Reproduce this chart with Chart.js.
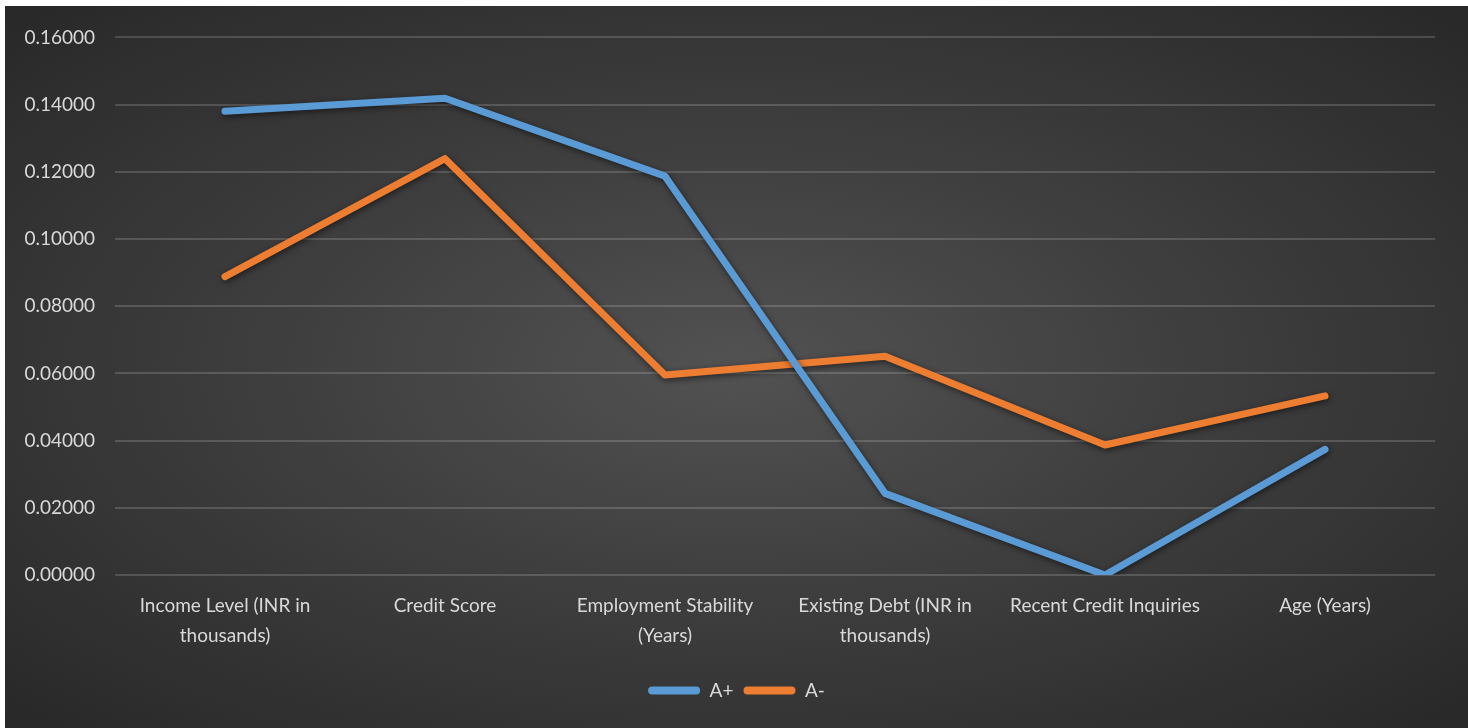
<!DOCTYPE html>
<html>
<head>
<meta charset="utf-8">
<script src="https://cdn.jsdelivr.net/npm/chart.js@4/dist/chart.umd.min.js"></script>
<style>
	html, body { margin: 0; padding: 0; background: #fff; }
	#wrap {
		position: absolute; left: 5px; top: 6px; width: 1463px; height: 722px;
		background: radial-gradient(ellipse at 50% 50%, #525252 0%, #3e3e3e 45%, #282828 100%);
	}
</style>
</head>
<body>
<div id="wrap"><canvas id="chart"></canvas></div>
<script>
// categories and series
var categories = [
	["Income Level (INR in", "thousands)"],
	"Credit Score",
	["Employment Stability", "(Years)"],
	["Existing Debt (INR in", "thousands)"],
	"Recent Credit Inquiries",
	"Age (Years)"
];
var aPlus  = [0.1380, 0.1419, 0.1187, 0.0243, 0.0000, 0.0374];
var aMinus = [0.0888, 0.1239, 0.0595, 0.0651, 0.0387, 0.0533];
var yTicks = { min: 0, max: 0.16, step: 0.02 };

var txt = "#d9d9d9";
var fontFam = "Lato, 'Open Sans', sans-serif";

// soft drop shadow under the lines, like the Excel style
var shadow = {
	id: "shadow",
	beforeDatasetsDraw: function(chart) {
		var c = chart.ctx;
		c.save();
		c.shadowColor = "rgba(0,0,0,0.55)";
		c.shadowBlur = 6;
		c.shadowOffsetX = 1;
		c.shadowOffsetY = 2;
	},
	afterDatasetsDraw: function(chart) {
		chart.ctx.restore();
	}
};

new Chart(document.getElementById("chart"), {
	type: "line",
	data: {
		labels: categories,
		datasets: [{
			label: "A+",
			data: aPlus,
			borderColor: "#5B9BD5",
			backgroundColor: "#5B9BD5",
			borderWidth: 7,
			borderCapStyle: "round",
			borderJoinStyle: "round",
			pointRadius: 0,
			tension: 0
		}, {
			label: "A-",
			data: aMinus,
			borderColor: "#ED7D31",
			backgroundColor: "#ED7D31",
			borderWidth: 7,
			borderCapStyle: "round",
			borderJoinStyle: "round",
			pointRadius: 0,
			tension: 0
		}]
	},
	options: {
		responsive: true,
		maintainAspectRatio: false,
		animation: false,
		layout: { padding: { top: 30, right: 0, bottom: 18, left: 0 } },
		plugins: {
			tooltip: { enabled: false },
			legend: {
				position: "bottom",
				labels: {
					color: txt,
					font: { family: fontFam, size: 19 },
					boxWidth: 52,
					boxHeight: 8,
					useBorderRadius: true,
					borderRadius: 4,
					padding: 10,
					generateLabels: function(chart) {
						var items = Chart.defaults.plugins.legend.labels.generateLabels(chart);
						items.forEach(function(it) { it.lineWidth = 0; });
						return items;
					}
				}
			}
		},
		scales: {
			x: {
				offset: true,
				grid: { display: false, drawTicks: false },
				border: { display: false },
				ticks: {
					color: txt,
					font: { family: fontFam, size: 19, lineHeight: 1.58 },
					padding: 16,
					maxRotation: 0,
					autoSkip: false
				},
				afterFit: function(s) { s.height = 96; }
			},
			y: {
				min: yTicks.min,
				max: yTicks.max,
				grid: { color: "rgba(255,255,255,0.16)", lineWidth: 2, drawTicks: false },
				border: { display: false },
				ticks: {
					stepSize: yTicks.step,
					color: txt,
					font: { family: fontFam, size: 19 },
					padding: 20,
					callback: function(v) { return v.toFixed(5); }
				},
				afterFit: function(s) { s.width = 110; }
			},
			// empty right-hand spacer so the legend stays centred on the whole chart
			yRight: {
				position: "right",
				display: true,
				grid: { display: false, drawTicks: false },
				border: { display: false },
				ticks: { display: false },
				afterFit: function(s) { s.width = 33; }
			}
		}
	},
	plugins: [shadow]
});
</script>
</body>
</html>
